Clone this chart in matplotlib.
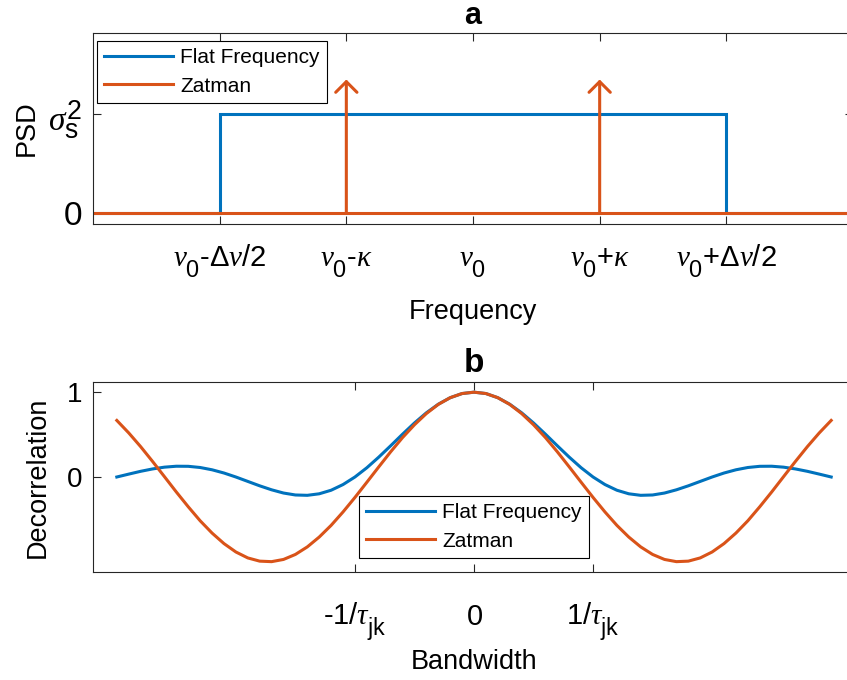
import numpy as np
import matplotlib
matplotlib.use('Agg')
import matplotlib.pyplot as plt
import matplotlib._mathtext as mathtext_core

plt.rcParams['font.family'] = ['Liberation Sans', 'DejaVu Sans']
plt.rcParams['mathtext.fontset'] = 'custom'
plt.rcParams['mathtext.rm'] = 'Liberation Sans'
plt.rcParams['mathtext.it'] = 'Liberation Serif:italic'
plt.rcParams['mathtext.bf'] = 'Liberation Sans:bold'
# larger, lower sub/superscripts, closer to the TeX-interpreter look
mathtext_core.SHRINK_FACTOR = 0.8
mathtext_core.FontConstantsBase.sub1 = 0.8

BLUE = '#0072BD'
ORANGE = '#D95319'
AXC = '#262626'

# panel a: power spectral density
freq_flat = [-3, -2, -2, 2, 2, 3]
psd_flat = [0, 0, 1, 1, 0, 0]
freq_zatman = [-3, 3]
psd_zatman = [0, 0]
zatman_lines = [-1, 1]
zatman_height = 1.35
freq_ticks = [-2, -1, 0, 1, 2]
freq_labels = [r'$\nu_0$-$\Delta\nu$/2', r'$\nu_0$-$\kappa$', r'$\nu_0$',
               r'$\nu_0$+$\kappa$', r'$\nu_0$+$\Delta\nu$/2']
psd_ticks = [0, 1]
psd_labels = ['0', r'$\sigma_{\mathrm{s}}^{2}$']

# panel b: decorrelation vs bandwidth
bandwidth = np.linspace(-3, 3, 61)
decor_flat = [0.000, 0.034, 0.067, 0.095, 0.116, 0.127, 0.126, 0.112, 0.085, 0.047,
              0.000, -0.052, -0.104, -0.151, -0.189, -0.212, -0.216, -0.198, -0.156, -0.089,
              0.000, 0.109, 0.234, 0.368, 0.505, 0.637, 0.757, 0.858, 0.935, 0.984,
              1.000,
              0.984, 0.935, 0.858, 0.757, 0.637, 0.505, 0.368, 0.234, 0.109, 0.000,
              -0.089, -0.156, -0.198, -0.216, -0.212, -0.189, -0.151, -0.104, -0.052, 0.000,
              0.047, 0.085, 0.112, 0.126, 0.127, 0.116, 0.095, 0.067, 0.034, 0.000]
decor_zatman = [0.667, 0.520, 0.358, 0.184, 0.004, -0.177, -0.351, -0.516, -0.661, -0.785,
                -0.884, -0.954, -0.992, -0.998, -0.972, -0.913, -0.824, -0.708, -0.570, -0.412,
                -0.241, -0.062, 0.119, 0.297, 0.465, 0.616, 0.748, 0.856, 0.935, 0.984,
                1.000,
                0.984, 0.935, 0.856, 0.748, 0.616, 0.465, 0.297, 0.119, -0.062, -0.241,
                -0.412, -0.570, -0.708, -0.824, -0.913, -0.972, -0.998, -0.992, -0.954, -0.884,
                -0.785, -0.661, -0.516, -0.351, -0.177, 0.004, 0.184, 0.358, 0.520, 0.667]
bw_ticks = [-1, 0, 1]
bw_labels = [r'-1/$\tau_{\mathrm{jk}}$', r'$\mathrm{0}$', r'1/$\tau_{\mathrm{jk}}$']
decor_ticks = [0, 1]

W, H = 847, 680
fig = plt.figure(figsize=(W / 100, H / 100), dpi=100)
ax1 = fig.add_axes([93 / W, 1 - 224 / H, 760 / W, 191 / H])
ax2 = fig.add_axes([93 / W, 1 - 572 / H, 762 / W, 190 / H])


def style_axes(ax, ytick_size):
    for sp in ax.spines.values():
        sp.set_color(AXC)
        sp.set_linewidth(0.8)
    ax.tick_params(direction='in', length=5.5, width=0.8, color=AXC,
                   top=True, right=True, labelcolor='black')
    ax.tick_params(axis='x', labelsize=21)
    ax.tick_params(axis='y', labelsize=ytick_size, pad=8)


# --- a ---
lw = 2.2
ax1.plot(freq_flat, psd_flat, color=BLUE, lw=lw, label='Flat Frequency',
         solid_joinstyle='miter')
ax1.plot(freq_zatman, psd_zatman, color=ORANGE, lw=lw, label='Zatman')
for xv in zatman_lines:
    ax1.annotate('', xy=(xv, zatman_height), xytext=(xv, 0),
                 arrowprops=dict(arrowstyle='->,head_length=0.45,head_width=0.45',
                                 color=ORANGE, lw=lw, shrinkA=0, shrinkB=0,
                                 mutation_scale=17))
ax1.set_xlim(-3, 3)
ax1.set_ylim(-0.11, 1.82)
ax1.set_xticks(freq_ticks)
ax1.set_xticklabels(freq_labels)
ax1.set_yticks(psd_ticks)
ax1.set_yticklabels(psd_labels)
style_axes(ax1, 24)
ax1.tick_params(axis='x', pad=31)
for lab in ax1.get_xticklabels():
    lab.set_va('baseline')
ax1.set_title('a', fontsize=22, fontweight='bold', pad=6.5)
ax1.set_xlabel('Frequency', fontsize=19.5)
ax1.xaxis.set_label_coords(0.5, -0.395)
ax1.set_ylabel('PSD', fontsize=19.5)
ax1.yaxis.set_label_coords(-0.07, 0.5)

leg_kw = dict(loc='upper left', bbox_transform=fig.transFigure, borderaxespad=0,
              fontsize=15, handlelength=3.3, handletextpad=0.35, borderpad=0.35,
              labelspacing=0.45, fancybox=False, framealpha=1, edgecolor='black')
leg1 = ax1.legend(bbox_to_anchor=(97 / W, 1 - 41 / H), **leg_kw)
leg1.get_frame().set_linewidth(0.8)

# --- b ---
ax2.plot(bandwidth, decor_flat, color=BLUE, lw=lw, label='Flat Frequency')
ax2.plot(bandwidth, decor_zatman, color=ORANGE, lw=lw, label='Zatman')
ax2.set_xlim(-3.2, 3.2)
ax2.set_ylim(-1.12, 1.12)
ax2.set_xticks(bw_ticks)
ax2.set_xticklabels(bw_labels)
ax2.set_yticks(decor_ticks)
style_axes(ax2, 20)
ax2.tick_params(axis='x', pad=38)
for lab in ax2.get_xticklabels():
    lab.set_va('baseline')
ax2.set_title('b', fontsize=24, fontweight='bold', pad=7)
ax2.set_xlabel('Bandwidth', fontsize=19.5)
ax2.xaxis.set_label_coords(0.5, -0.405)
ax2.set_ylabel('Decorrelation', fontsize=19.5)
ax2.yaxis.set_label_coords(-0.056, 0.5)
leg2 = ax2.legend(bbox_to_anchor=(359 / W, 1 - 496 / H), **leg_kw)
leg2.get_frame().set_linewidth(0.8)

fig.savefig('out.png', dpi=100)
